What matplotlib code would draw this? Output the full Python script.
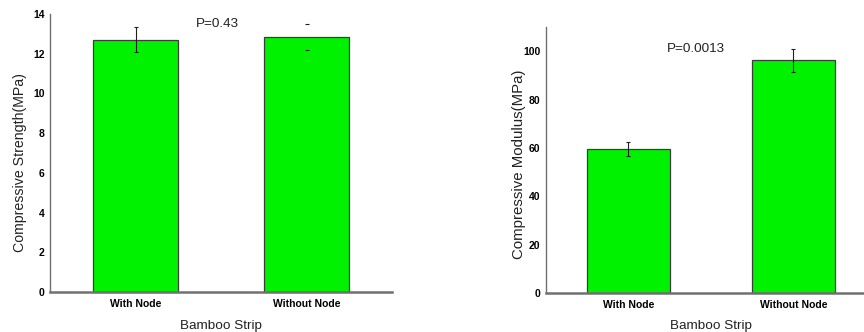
import matplotlib
matplotlib.use("Agg")
import matplotlib.pyplot as plt

plt.rcParams['font.family'] = ['Liberation Sans', 'DejaVu Sans']

# data
groups = ['With Node', 'Without Node']
strength = [12.7, 12.85]
strength_err = [0.63, 0.65]
modulus = [59.6, 96.2]
modulus_err = [3.0, 4.8]
strength_ticks = [0, 2, 4, 6, 8, 10, 12, 14]
modulus_ticks = [0, 20, 40, 60, 80, 100]

bar_color = '#00f200'
edge_color = '#3c3c3c'
axis_color = '#707070'

fig = plt.figure(figsize=(8.64, 3.32), dpi=100)
ax1 = fig.add_axes([0.0579, 0.1205, 0.3958, 0.8373])
ax2 = fig.add_axes([0.6319, 0.1175, 0.3819, 0.8012])


def draw_panel(ax, values, errs, ylim, yticks, ylabel, ptext, pxy, ylab_xy, ylab_size,
               err_line=(True, True)):
    x = range(len(groups))
    ax.bar(x, values, width=0.5, color=bar_color, edgecolor=edge_color, linewidth=0.9, zorder=2)
    for i, (v, e) in enumerate(zip(values, errs)):
        eb = ax.errorbar(i, v, yerr=e, fmt='none', ecolor='#202020', elinewidth=0.8,
                         capsize=1.6, capthick=0.8, zorder=3)
        if not err_line[i]:
            eb[2][0].set_visible(False)
    ax.set_xlim(-0.5, 1.5)
    ax.set_ylim(*ylim)
    ax.set_xticks(list(x))
    ax.set_xticklabels(groups, fontsize=7.5, fontweight='bold')
    ax.set_yticks(yticks)
    ax.set_yticklabels([str(t) for t in yticks], fontsize=7.5, fontweight='bold')
    ax.tick_params(length=0, pad=4)
    ax.tick_params(axis='x', pad=5)
    for s in ['top', 'right']:
        ax.spines[s].set_visible(False)
    ax.spines['left'].set_color(axis_color)
    ax.spines['left'].set_linewidth(1.0)
    ax.spines['bottom'].set_color(axis_color)
    ax.spines['bottom'].set_linewidth(1.8)
    ax.set_xlabel('Bamboo Strip', fontsize=9.7, color='#222222')
    ax.xaxis.set_label_coords(0.5, -0.10)
    ax.set_ylabel(ylabel, fontsize=ylab_size, color='#222222')
    ax.yaxis.set_label_coords(*ylab_xy)
    ax.text(pxy[0], pxy[1], ptext, fontsize=9.7, color='#222222', ha='center', va='center')


draw_panel(ax1, strength, strength_err, (0, 14), strength_ticks,
           'Compressive Strength(MPa)', 'P=0.43', (0.48, 13.5), (-0.067, 0.464), 10.2,
           err_line=(True, False))
draw_panel(ax2, modulus, modulus_err, (0, 110), modulus_ticks,
           'Compressive Modulus(MPa)', 'P=0.0013', (0.41, 100.8), (-0.061, 0.485), 10.8)

fig.savefig('out.png', dpi=100)
